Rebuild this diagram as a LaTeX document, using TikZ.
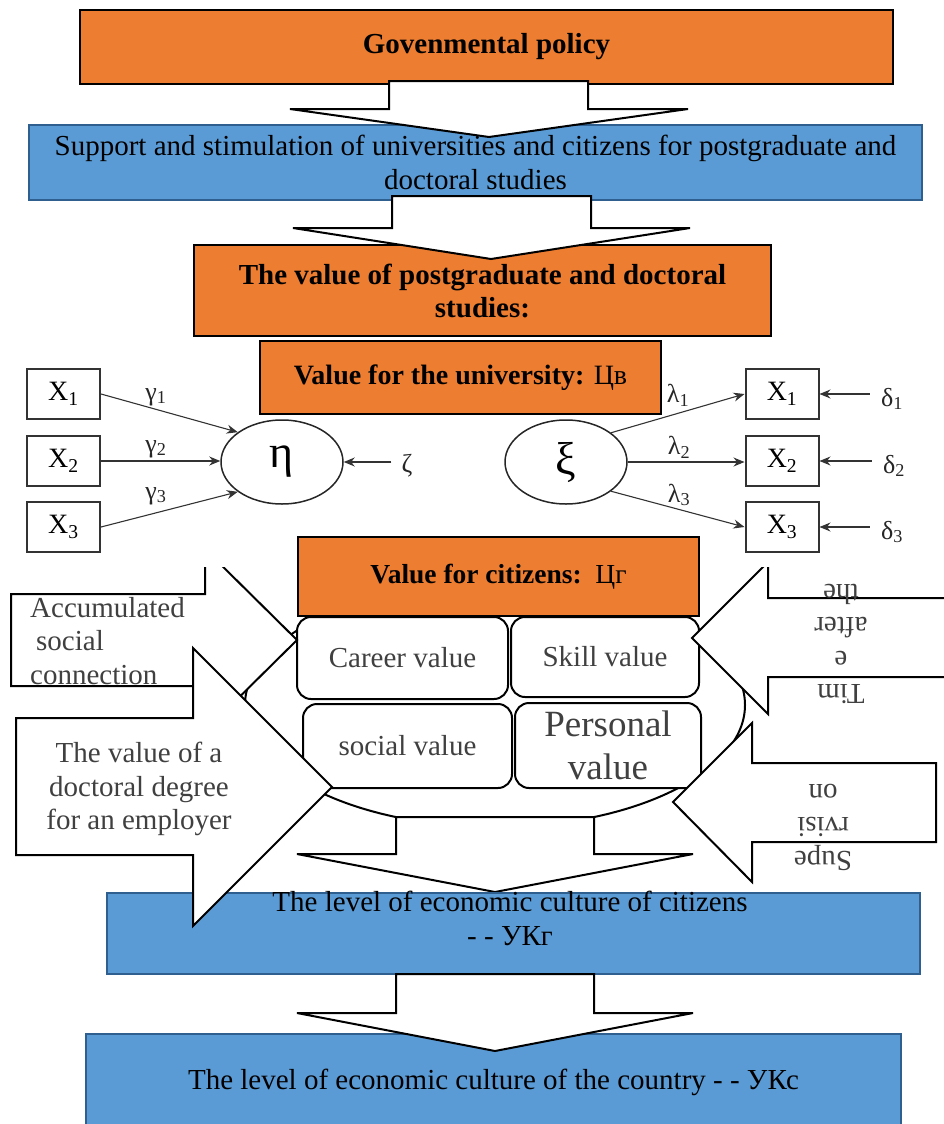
\documentclass[tikz,border=0pt]{standalone}
\usepackage{fontspec}
\setmainfont{Liberation Serif}
\usetikzlibrary{shapes.geometric, arrows.meta, positioning, calc}
\definecolor{naranja}{HTML}{ED7D31}
\definecolor{azul}{HTML}{5B9BD5}
\definecolor{bordeazul}{HTML}{2F5F8E}
\definecolor{grisoscuro}{HTML}{404040}
\tikzset{
  cajanar/.style={rectangle, draw=black, line width=2.5pt, fill=naranja, inner sep=0pt,
                  font=\fontsize{29}{33}\selectfont\bfseries, align=center},
  cajaazul/.style={rectangle, draw=bordeazul, line width=2pt, fill=azul, inner sep=0pt,
                   font=\fontsize{29}{34}\selectfont, align=center},
  cajavalor/.style={rectangle, rounded corners=14pt, draw=black, line width=2pt, fill=white,
                    text=grisoscuro, font=\fontsize{29}{33}\selectfont, align=center, inner sep=0pt},
  cajax/.style={rectangle, draw=black!80, line width=2pt, fill=white, minimum width=73pt,
                minimum height=50pt, font=\fontsize{28}{28}\selectfont},
  latente/.style={ellipse, draw=black!85, line width=1.5pt, fill=white, minimum width=122pt,
                  minimum height=84pt, inner sep=0pt, font=\fontsize{46}{46}\selectfont},
  flecha/.style={-{Stealth[length=11pt,width=9pt]}, line width=1.1pt, draw=black!80},
  bloque/.style={draw=black, line width=2pt, fill=white, line join=miter},
  etiq/.style={font=\fontsize{26}{26}\selectfont, inner sep=0pt, text=black!85},
  texgris/.style={text=grisoscuro, font=\fontsize{29}{33.5}\selectfont, inner sep=0pt}
}
\begin{document}
\begin{tikzpicture}[x=1pt, y=-1pt]
  \useasboundingbox (0,0) rectangle (944,1124);
  \clip (0,0) rectangle (944,1124);
  % politica y apoyo
  \node (politica) [cajanar, minimum width=813pt, minimum height=74pt] at (486.5,47) {\raisebox{-3pt}{Govenmental policy}};
  \node (apoyo) [cajaazul, minimum width=893pt, minimum height=75pt] at (475.5,162.5)
    {Support and stimulation of universities and citizens for postgraduate and\\doctoral studies};
  \node (valor) [cajanar, minimum width=577pt, minimum height=91pt] at (482.5,290.5)
    {The value of postgraduate and doctoral\\studies:};
  \draw [bloque] (389,81) -- (588,81) -- (588,109) -- (688,109) -- (489,137) -- (290,109) -- (389,109) -- cycle;
  \draw [bloque] (392,196) -- (591,196) -- (591,228) -- (690,228) -- (491,259) -- (293,228) -- (392,228) -- cycle;
  % valor para los ciudadanos
  \node (cuenca) [ellipse, draw=black, line width=2pt, fill=white, minimum width=500pt, minimum height=244pt] at (495,705) {};
  \draw [bloque] (396,817) -- (594,817) -- (594,854) -- (693,854) -- (495,892) -- (297,854) -- (396,854) -- cycle;
  \node (nivelciu) [cajaazul, minimum width=813pt, minimum height=81pt] at (513.5,933.5) {};
  \node (nivelciutxt) [font=\fontsize{29}{34}\selectfont, align=center, inner sep=0pt] at (510,918)
    {The level of economic culture of citizens\\- - УКг};
  \node (nivelpais) [cajaazul, minimum width=815pt, minimum height=96pt] at (493.5,1082)
    {The level of economic culture of the country - - УКс};
  \draw [bloque] (396,974) -- (594,974) -- (594,1013) -- (693,1013) -- (495,1051) -- (297,1013) -- (396,1013) -- cycle;
  \node (carrera) [cajavalor, minimum width=211pt, minimum height=82pt] at (402.5,658) {Career value};
  \node (habilidad) [cajavalor, minimum width=188pt, minimum height=80pt] at (605,657) {Skill value};
  \node (social) [cajavalor, minimum width=209pt, minimum height=84pt] at (407.5,746) {social value};
  \node (personal) [cajavalor, minimum width=186pt, minimum height=85pt, font=\fontsize{37}{43}\selectfont] at (608,745.5) {Personal\\value};
  % flechas laterales
  \draw [bloque] (11,594) -- (205,594) -- (205,549) -- (297,640) -- (205,731) -- (205,686) -- (11,686) -- cycle;
  \node (acumtxt) [texgris, align=left, anchor=west] at (30,641) {Accumulated\\\hspace{6pt}social\\connection};
  \draw [bloque] (16,718) -- (193,718) -- (193,648) -- (332,787) -- (193,926) -- (193,855) -- (16,855) -- cycle;
  \node (empleadortxt) [texgris, align=center] at (139,789) {The value of a\\doctoral degree\\for an employer};
  \draw [bloque] (950,598) -- (768,598) -- (768,562) -- (692,638) -- (768,714) -- (768,677) -- (950,677);
  \node (tiempotxt) [texgris, rotate=180, align=center] at (841,627) {Tim\\e\\after\\the\\cost};
  \draw [bloque] (936,763) -- (752,763) -- (752,723) -- (673,802) -- (752,882) -- (752,842) -- (936,842) -- cycle;
  \node (supervtxt) [texgris, rotate=180, align=center] at (823,827) {Supe\\rvisi\\on};
  \fill [white] (0,520) rectangle (944,566.5);
  % valor para la universidad
  \node (valoruni) [cajanar, minimum width=401pt, minimum height=73pt, font=\fontsize{28}{30}\selectfont\bfseries] at (460.5,377.5)
    {Value for the university: {\mdseries Цв}};
  \node (valorciu) [cajanar, minimum width=401pt, minimum height=79pt, font=\fontsize{27.5}{30}\selectfont\bfseries] at (498.5,576.5)
    {Value for citizens:~~{\mdseries Цг}};
  % modelo eta
  \node (xa) [cajax] at (63.5,394) {X\textsubscript{1}};
  \node (xb) [cajax] at (63.5,461) {X\textsubscript{2}};
  \node (xc) [cajax] at (63.5,527) {X\textsubscript{3}};
  \node (eta) [latente] at (282,462) {η};
  \node (zeta) [etiq] at (407,466) {ζ};
  \draw [flecha] (xa.east) -- (eta.146);
  \draw [flecha] (xb.east) -- (xb.east -| eta.west);
  \draw [flecha] (xc.east) -- (eta.214);
  \draw [flecha] ([xshift=-10pt]zeta.west |- eta.east) -- (eta.east);
  \node (gama1) [etiq] at (156,397) {γ\textsubscript{1}};
  \node (gama2) [etiq] at (156,449) {γ\textsubscript{2}};
  \node (gama3) [etiq] at (156,496) {γ\textsubscript{3}};
  % modelo xi
  \node (xi) [latente] at (566,462) {ξ};
  \node (xd) [cajax] at (782,394) {X\textsubscript{1}};
  \node (xe) [cajax] at (782,461) {X\textsubscript{2}};
  \node (xf) [cajax] at (782,527) {X\textsubscript{3}};
  \draw [flecha] (xi.33) -- (xd.west);
  \draw [flecha] (xi.east) -- (xi.east -| xe.west);
  \draw [flecha] (xi.-33) -- (xf.west);
  \node (lam1) [etiq] at (678,395) {λ\textsubscript{1}};
  \node (lam2) [etiq] at (679,447) {λ\textsubscript{2}};
  \node (lam3) [etiq] at (679,495) {λ\textsubscript{3}};
  \node (del1) [etiq] at (892,399) {δ\textsubscript{1}};
  \node (del2) [etiq] at (894,466) {δ\textsubscript{2}};
  \node (del3) [etiq] at (892,532) {δ\textsubscript{3}};
  \draw [flecha] ([xshift=-11pt]del1.west |- xd.east) -- (xd.east);
  \draw [flecha] ([xshift=-11pt]del2.west |- xe.east) -- (xe.east);
  \draw [flecha] ([xshift=-11pt]del3.west |- xf.east) -- (xf.east);
\end{tikzpicture}
\end{document}
